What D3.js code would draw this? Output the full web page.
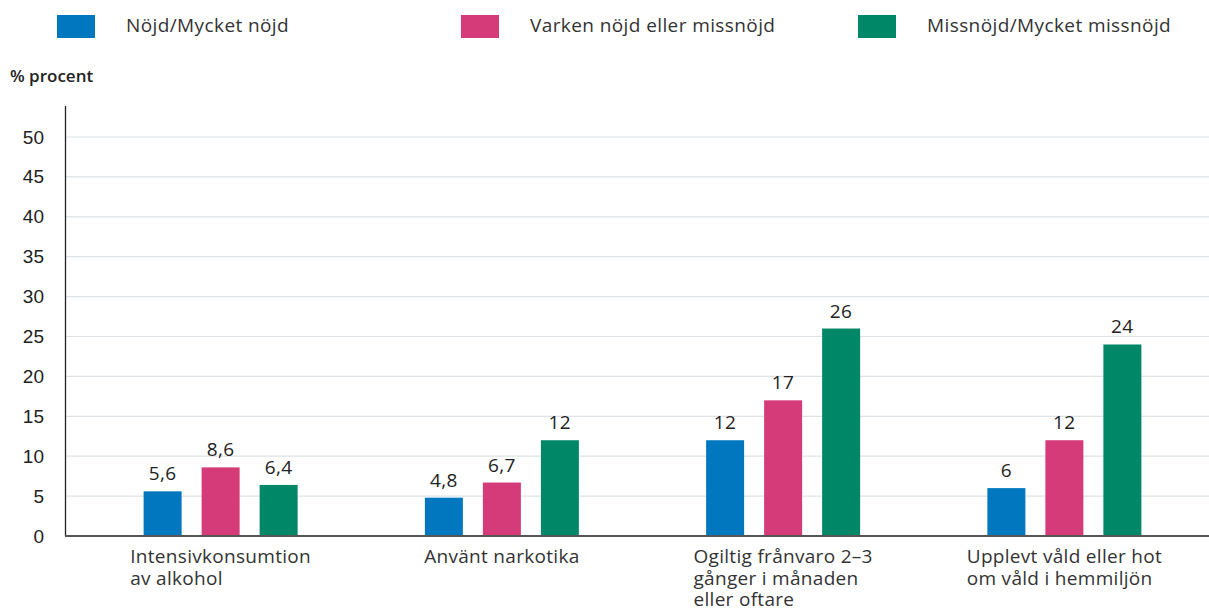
<!DOCTYPE html>
<html lang="sv">
<head>
<meta charset="UTF-8"/>
<script src="https://d3js.org/d3.v7.min.js"></script>
<style>
body { margin: 0; background: #fff; font-family: 'Open Sans', sans-serif; }
svg { display: block; }
text { fill: #222; }
.legend text { font-size: 19px; fill: #333; letter-spacing: 0.4px; }
.tick text { font-size: 19px; fill: #222; }
.value { font-size: 19px; letter-spacing: 0.4px; }
.cat { font-size: 19px; fill: #333; letter-spacing: 0.3px; }
.unit { font-size: 17px; font-weight: 600; }
.grid line { stroke: #dde3e7; stroke-width: 1.2; }
</style>
</head>
<body>
<svg width="1209" height="611"></svg>
<script>
const categories = [
  ['Intensivkonsumtion', 'av alkohol'],
  ['Använt narkotika'],
  ['Ogiltig frånvaro 2–3', 'gånger i månaden', 'eller oftare'],
  ['Upplevt våld eller hot', 'om våld i hemmiljön']
];
const seriesNames = ['Nöjd/Mycket nöjd', 'Varken nöjd eller missnöjd', 'Missnöjd/Mycket missnöjd'];
const seriesColors = ['#0077be', '#d53a79', '#008767'];
const nojd = [5.6, 4.8, 12, 6];
const varken = [8.6, 6.7, 17, 12];
const missnojd = [6.4, 12, 26, 24];
const yTicks = [0, 5, 10, 15, 20, 25, 30, 35, 40, 45, 50];

const series = [nojd, varken, missnojd];
const svg = d3.select('svg');

const x0 = d3.scaleBand().domain(d3.range(categories.length)).range([80, 1205]);
const x1 = d3.scaleBand().domain(d3.range(series.length)).range([0, 154]).paddingInner(0.345).paddingOuter(0);
const y = d3.scaleLinear().domain([0, 50]).range([536, 137]);

// grid
svg.append('g').attr('class', 'grid')
  .selectAll('line').data(yTicks.filter(d => d > 0)).join('line')
  .attr('x1', 66).attr('x2', 1209)
  .attr('y1', d => y(d)).attr('y2', d => y(d));

// y axis
const yAxis = svg.append('g').attr('transform', 'translate(66,0)')
  .call(d3.axisLeft(y).tickValues(yTicks).tickSize(0).tickPadding(22));
yAxis.select('.domain').remove();
yAxis.selectAll('.tick text').attr('font-family', null);
svg.append('line').attr('x1', 65.5).attr('x2', 65.5).attr('y1', 106).attr('y2', 536)
  .attr('stroke', '#222').attr('stroke-width', 1.3);

// bars
const groups = svg.append('g').selectAll('g').data(categories).join('g')
  .attr('transform', (d, i) => `translate(${x0(i) + x0.bandwidth() / 2 - 77},0)`);

groups.each(function (c, i) {
  const g = d3.select(this);
  series.forEach((s, j) => {
    g.append('rect')
      .attr('x', x1(j)).attr('width', x1.bandwidth())
      .attr('y', y(s[i])).attr('height', y(0) - y(s[i]))
      .attr('fill', seriesColors[j]);
    g.append('text').attr('class', 'value')
      .attr('x', x1(j) + x1.bandwidth() / 2).attr('y', y(s[i]) - 11)
      .attr('text-anchor', 'middle')
      .text(String(s[i]).replace('.', ','));
  });
});

// x axis line
svg.append('line').attr('x1', 65).attr('x2', 1209).attr('y1', 536).attr('y2', 536)
  .attr('stroke', '#555').attr('stroke-width', 2);

// category labels: block centred on group, lines left-aligned
categories.forEach((lines, i) => {
  const cx = x0(i) + x0.bandwidth() / 2;
  const t = svg.append('text').attr('class', 'cat');
  lines.forEach((l, k) => {
    t.append('tspan').attr('x', 0).attr('y', 563 + k * 21.5).text(l);
  });
  const w = t.node().getBBox().width;
  t.attr('transform', `translate(${cx - w / 2},0)`);
});

// unit label
svg.append('text').attr('class', 'unit').attr('x', 10).attr('y', 82).text('% procent');

// legend
const legX = [57, 461, 858];
const legend = svg.append('g').attr('class', 'legend');
seriesNames.forEach((n, j) => {
  legend.append('rect').attr('x', legX[j]).attr('y', 15).attr('width', 38).attr('height', 23)
    .attr('fill', seriesColors[j]);
  legend.append('text').attr('x', legX[j] + 69).attr('y', 32).text(n);
});
</script>
</body>
</html>
